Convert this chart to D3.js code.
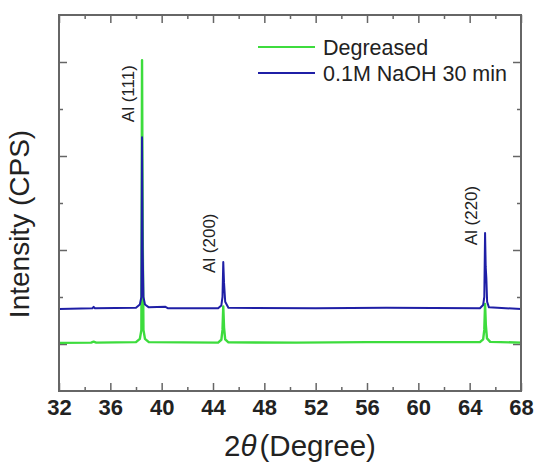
<!DOCTYPE html>
<html>
<head>
<meta charset="utf-8">
<script src="https://cdn.jsdelivr.net/npm/d3@7"></script>
<style>
  html, body { margin: 0; padding: 0; background: #fff; }
  svg { display: block; font-family: "Liberation Sans", Arial, sans-serif; }
</style>
</head>
<body>
<svg id="chart" width="537" height="462"></svg>
<script>
// XRD patterns: 2θ (degree) vs intensity (counts, arbitrary offset)
const degreasedAngle = [32, 34.5, 34.7, 34.9, 38.0, 38.3, 38.42, 38.47, 38.52, 38.58, 38.7, 39.0,
  44.4, 44.65, 44.74, 44.8, 44.86, 44.95, 45.2, 50.5, 56.0, 64.8, 65.05, 65.14, 65.2, 65.26, 65.35, 65.6, 68];
const degreasedCounts = [25, 30, 50, 30, 40, 110, 300, 6040, 2500, 300, 110, 40,
  30, 90, 300, 800, 350, 100, 35, 30, 40, 40, 100, 300, 850, 400, 120, 45, 30];

const naohAngle = [32, 34.6, 34.7, 34.8, 38.0, 38.3, 38.42, 38.47, 38.52, 38.58, 38.7, 39.0, 40.3, 40.5,
  44.4, 44.65, 44.74, 44.8, 44.86, 44.95, 45.2, 52.0, 57.5, 64.8, 65.05, 65.14, 65.2, 65.25, 65.3, 65.36, 65.5, 68];
const naohCounts = [745, 760, 790, 760, 770, 840, 1000, 4400, 2000, 1000, 840, 780, 790, 760,
  760, 820, 1000, 1745, 1300, 900, 770, 760, 770, 760, 830, 1000, 2360, 1640, 1400, 900, 780, 745];

const xMajorTicks = [32, 36, 40, 44, 48, 52, 56, 60, 64, 68];
const xMinorTicks = [34, 38, 42, 46, 50, 54, 58, 62, 66];
const yMajorTicks = [0, 2000, 4000, 6000];
const yMinorTicks = [1000, 3000, 5000];

const peakLabels = ["Al (111)", "Al (200)", "Al (220)"];
const peakAngles = [38.47, 44.8, 65.2];
const labelCounts = [4720, 1510, 2100];

const seriesNames = ["Degreased", "0.1M NaOH 30 min"];
const seriesColors = ["#3ddc3d", "#1f1fa6"];

const svg = d3.select("#chart");
const m = { left: 59, right: 521, top: 15, bottom: 391 };

const x = d3.scaleLinear().domain([32, 68]).range([m.left, m.right]);
const y = d3.scaleLinear().domain([-1000, 7000]).range([m.bottom, m.top]);

const axisColor = "#666";

// Ticks (inward) on all four sides
function styleAxis(g) {
  g.select(".domain").remove();
  g.selectAll(".tick line").attr("stroke", axisColor).attr("stroke-width", 1.5);
}
svg.append("g").attr("transform", `translate(0,${m.bottom})`)
  .call(d3.axisBottom(x).tickValues(xMajorTicks).tickSize(-8).tickPadding(8).tickFormat(d3.format("d")))
  .call(styleAxis)
  .call(g => g.selectAll("text").attr("font-size", 22).attr("font-weight", "bold")
    .attr("fill", "#222").attr("font-family", "'Liberation Sans', Arial, sans-serif"));
svg.append("g").attr("transform", `translate(0,${m.bottom})`)
  .call(d3.axisBottom(x).tickValues(xMinorTicks).tickSize(-4).tickFormat(""))
  .call(styleAxis);
svg.append("g").attr("transform", `translate(0,${m.top})`)
  .call(d3.axisTop(x).tickValues(xMajorTicks).tickSize(-8).tickFormat(""))
  .call(styleAxis);
svg.append("g").attr("transform", `translate(0,${m.top})`)
  .call(d3.axisTop(x).tickValues(xMinorTicks).tickSize(-4).tickFormat(""))
  .call(styleAxis);
svg.append("g").attr("transform", `translate(${m.left},0)`)
  .call(d3.axisLeft(y).tickValues(yMajorTicks).tickSize(-8).tickFormat(""))
  .call(styleAxis);
svg.append("g").attr("transform", `translate(${m.left},0)`)
  .call(d3.axisLeft(y).tickValues(yMinorTicks).tickSize(-4).tickFormat(""))
  .call(styleAxis);
svg.append("g").attr("transform", `translate(${m.right},0)`)
  .call(d3.axisRight(y).tickValues(yMajorTicks).tickSize(-8).tickFormat(""))
  .call(styleAxis);
svg.append("g").attr("transform", `translate(${m.right},0)`)
  .call(d3.axisRight(y).tickValues(yMinorTicks).tickSize(-4).tickFormat(""))
  .call(styleAxis);

// Patterns
const line = d3.line().x(d => x(d[0])).y(d => y(d[1]));
const degreased = d3.zip(degreasedAngle, degreasedCounts);
const naoh = d3.zip(naohAngle, naohCounts);

svg.append("path").datum(degreased)
  .attr("fill", "none").attr("stroke", seriesColors[0]).attr("stroke-width", 2.4)
  .attr("stroke-linejoin", "round").attr("d", line);
svg.append("path").datum(naoh)
  .attr("fill", "none").attr("stroke", seriesColors[1]).attr("stroke-width", 2)
  .attr("stroke-linejoin", "round").attr("d", line);

// Frame
svg.append("rect")
  .attr("x", m.left).attr("y", m.top)
  .attr("width", m.right - m.left).attr("height", m.bottom - m.top)
  .attr("fill", "none").attr("stroke", axisColor).attr("stroke-width", 2);

// Peak labels
peakLabels.forEach((t, i) => {
  const px = x(peakAngles[i]) - 8;
  const py = y(labelCounts[i]);
  svg.append("text")
    .attr("transform", `translate(${px},${py}) rotate(-90)`)
    .attr("font-size", 17).attr("fill", "#222")
    .text(t);
});

// Legend
const legendY = [47, 73];
seriesNames.forEach((name, i) => {
  svg.append("line")
    .attr("x1", 258).attr("x2", 315).attr("y1", legendY[i]).attr("y2", legendY[i])
    .attr("stroke", seriesColors[i]).attr("stroke-width", 2);
  svg.append("text")
    .attr("x", 323).attr("y", legendY[i] + 7.5)
    .attr("font-size", 21.5).attr("fill", "#222")
    .text(name);
});

// Axis titles
const xt = svg.append("text")
  .attr("x", 300).attr("y", 456)
  .attr("text-anchor", "middle").attr("font-size", 29.5).attr("fill", "#222");
xt.append("tspan").text("2");
xt.append("tspan").attr("font-style", "italic").text("θ");
xt.append("tspan").attr("dx", 3).text("(Degree)");

svg.append("text")
  .attr("transform", `translate(29,224) rotate(-90)`)
  .attr("text-anchor", "middle").attr("font-size", 28).attr("fill", "#222")
  .text("Intensity (CPS)");
</script>
</body>
</html>
